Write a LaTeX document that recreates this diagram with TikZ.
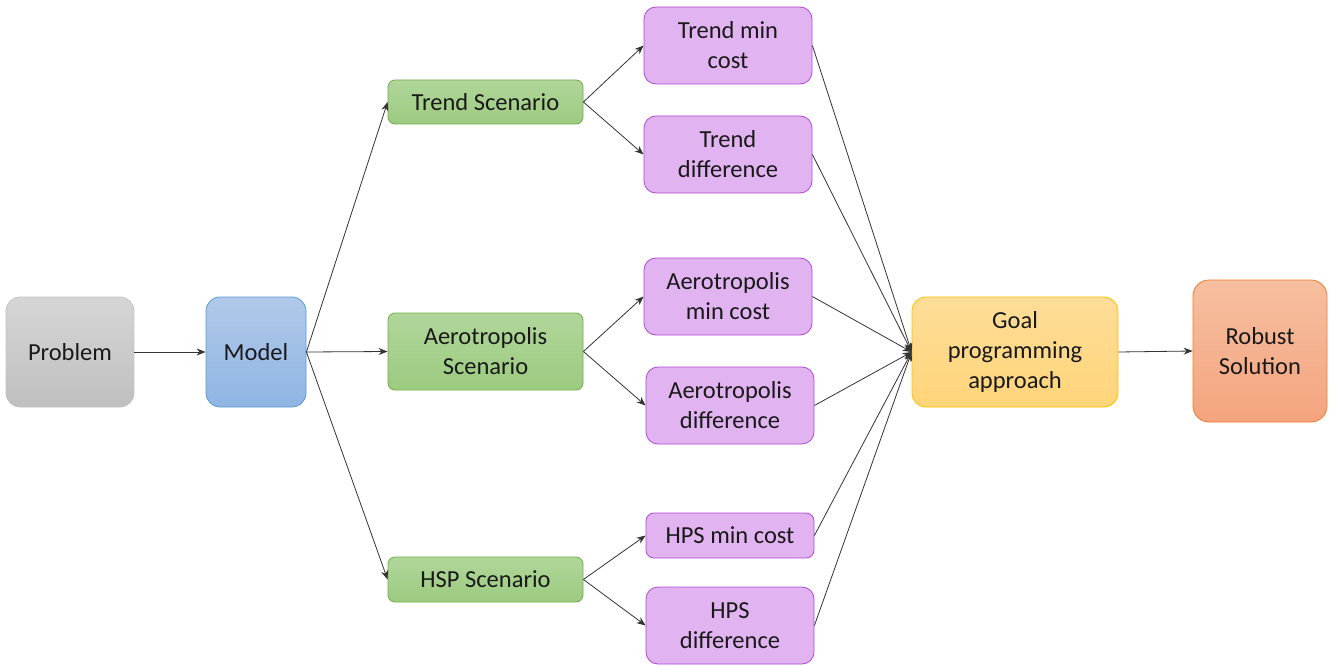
\documentclass[tikz,border=0pt]{standalone}
\usepackage{fontspec}
\setmainfont{Carlito}
\usetikzlibrary{arrows.meta}
\definecolor{grayB}{HTML}{BFBFBF}
\definecolor{grayT}{HTML}{D6D6D6}
\definecolor{grayBo}{HTML}{C3C3C3}
\definecolor{blueT}{HTML}{B0C9EA}
\definecolor{blueB}{HTML}{90B5E3}
\definecolor{blueBo}{HTML}{5B9BD5}
\definecolor{greenT}{HTML}{B0D69A}
\definecolor{greenB}{HTML}{9CCB80}
\definecolor{greenBo}{HTML}{70AD47}
\definecolor{purpF}{HTML}{E1B3F0}
\definecolor{purpBo}{HTML}{B048D8}
\definecolor{orT}{HTML}{FFDD99}
\definecolor{orB}{HTML}{FFD57A}
\definecolor{orBo}{HTML}{FFC000}
\definecolor{saT}{HTML}{F6BFA0}
\definecolor{saB}{HTML}{F4A47E}
\definecolor{saBo}{HTML}{ED7D31}
\tikzset{
  box/.style={rounded corners=14pt, line width=0.8pt, align=center, inner sep=0pt,
    font=\fontsize{24.5}{30}\selectfont, text=black!90},
  graybox/.style={box, draw=grayBo, top color=grayT, bottom color=grayB},
  bluebox/.style={box, draw=blueBo, top color=blueT, bottom color=blueB},
  greenbox/.style={box, rounded corners=7pt, draw=greenBo, top color=greenT, bottom color=greenB},
  purpbox/.style={box, rounded corners=12pt, draw=purpBo, fill=purpF},
  orbox/.style={box, draw=orBo, top color=orT, bottom color=orB},
  sabox/.style={box, rounded corners=16pt, draw=saBo, top color=saT, bottom color=saB},
  conn/.style={line width=0.8pt, draw=black!80, -{Stealth[length=9pt,width=7pt]}},
}
\begin{document}
\begin{tikzpicture}[x=1pt,y=-1pt]
\useasboundingbox (0,0) rectangle (1335,666);
\node[graybox, minimum width=128pt, minimum height=110pt] (prob) at (70,352) {Problem};
\node[bluebox, minimum width=100pt, minimum height=110pt] (model) at (256,352) {Model};
\node[greenbox, minimum width=195pt, minimum height=44pt] (ts) at (485.5,102) {Trend Scenario};
\node[greenbox, minimum width=195pt, minimum height=77pt] (as) at (485.5,351.5) {Aerotropolis\\Scenario};
\node[greenbox, minimum width=195pt, minimum height=45pt] (hs) at (485.5,579.5) {HSP Scenario};
\node[purpbox, minimum width=168pt, minimum height=77pt] (tmc) at (728,45.5) {Trend min\\cost};
\node[purpbox, minimum width=168pt, minimum height=77pt] (td) at (728,154.5) {Trend\\difference};
\node[purpbox, minimum width=168pt, minimum height=77pt] (amc) at (728,296.5) {Aerotropolis\\min cost};
\node[purpbox, minimum width=168pt, minimum height=77pt] (ad) at (730,405.5) {Aerotropolis\\difference};
\node[purpbox, rounded corners=8pt, minimum width=168pt, minimum height=45pt] (hmc) at (730,535.5) {HPS min cost};
\node[purpbox, minimum width=168pt, minimum height=77pt] (hd) at (730,625.5) {HPS\\difference};
\node[orbox, minimum width=206pt, minimum height=110pt] (goal) at (1015,352) {Goal\\programming\\approach};
\node[sabox, minimum width=134pt, minimum height=142pt] (rob) at (1260,351) {Robust\\Solution};

\draw[conn] (prob.east) -- (model.west);
\draw[conn] (model.east) -- (ts.west);
\draw[conn] (model.east) -- (as.west);
\draw[conn] (model.east) -- (hs.west);
\draw[conn] (ts.east) -- (tmc.west);
\draw[conn] (ts.east) -- (td.west);
\draw[conn] (as.east) -- (amc.west);
\draw[conn] (as.east) -- (ad.west);
\draw[conn] (hs.east) -- (hmc.west);
\draw[conn] (hs.east) -- (hd.west);
\draw[conn] (tmc.east) -- (goal.west);
\draw[conn] (td.east) -- (goal.west);
\draw[conn] (amc.east) -- (goal.west);
\draw[conn] (ad.east) -- (goal.west);
\draw[conn] (hmc.east) -- (goal.west);
\draw[conn] (hd.east) -- (goal.west);
\draw[conn] (goal.east) -- (rob.west);
\end{tikzpicture}
\end{document}
